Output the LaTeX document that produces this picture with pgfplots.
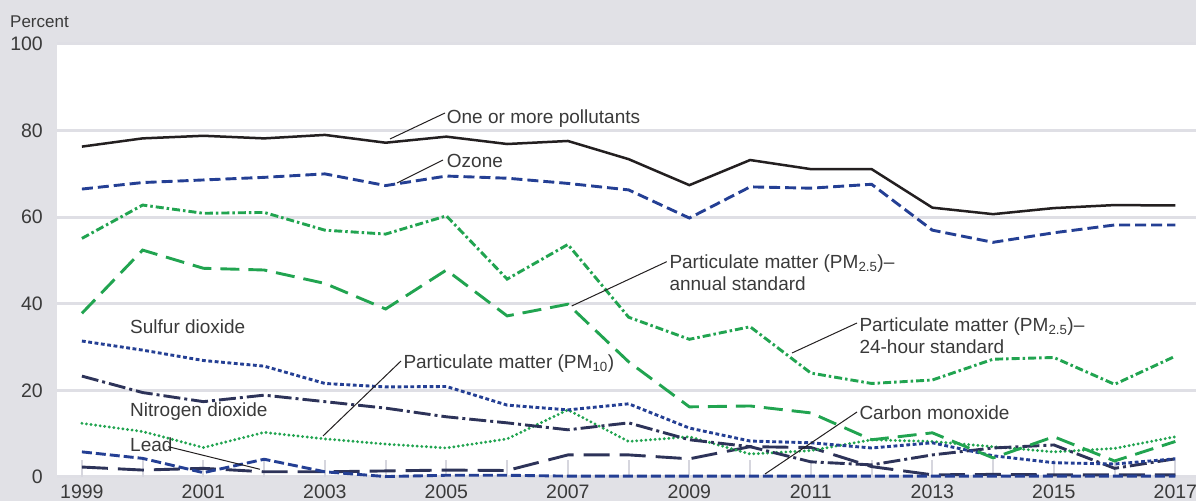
\documentclass[border=0pt]{standalone}
\usepackage{pgfplots}
\usepackage{pgfplotstable}
\pgfplotsset{compat=1.18}
\usepackage{fontspec}
\setmainfont{Liberation Sans}
\definecolor{bggray}{RGB}{225,225,230}
\definecolor{gridgray}{RGB}{223,223,229}
\definecolor{tickgray}{RGB}{214,214,222}
\definecolor{txt}{RGB}{58,58,58}
\definecolor{cblack}{RGB}{35,31,32}
\definecolor{cblue}{RGB}{36,63,148}
\definecolor{cgreen}{RGB}{33,164,80}
\definecolor{cnavy}{RGB}{45,51,89}

\pgfplotstableread{
year one  ozone pmday pmann so2  no2  pmten co  lead
1999 76.3 66.5  55.1  37.8  31.4 23.3 12.4  5.8 2.3
2000 78.2 68.0  62.8  52.4  29.3 19.5 10.5  4.3 1.6
2001 78.8 68.6  60.9  48.2  26.9 17.4  6.8  1.0 2.0
2002 78.2 69.2  61.1  47.8  25.6 18.9 10.3  4.1 1.2
2003 79.0 70.0  57.0  44.7  21.6 17.4  8.8  1.2 1.2
2004 77.2 67.3  56.1  38.8  20.8 15.9  7.6  0.1 1.4
2005 78.6 69.5  60.3  47.8  20.9 13.9  6.7  0.4 1.6
2006 76.9 69.0  45.7  37.2  16.6 12.5  8.8  0.4 1.5
2007 77.6 67.8  53.7  39.9  15.5 10.9 15.5  0.2 5.1
2008 73.4 66.3  36.9  26.6  16.9 12.5  8.2  0.2 5.1
2009 67.4 59.8  31.8  16.2  11.3  8.6  9.3  0.2 4.2
2010 73.2 67.0  34.7  16.4   8.3  7.0  5.3  0.2 7.0
2011 71.1 66.7  24.0  14.8   7.9  3.5  6.1  0.2 6.8
2012 71.1 67.6  21.6   8.6   6.7  2.8  8.6  0.2 2.4
2013 62.2 57.0  22.4  10.2   7.9  5.1  8.2  0.2 0.5
2014 60.7 54.2  27.2   4.4   4.9  6.7  7.0  0.2 0.6
2015 62.1 56.4  27.6   9.3   3.3  7.4  5.8  0.2 0.5
2016 62.8 58.2  21.4   3.7   3.0  2.0  6.6  0.2 0.5
2017 62.7 58.2  27.9   8.2   4.2  4.2  9.3  0.2 0.5
}\datatable

\begin{document}
\begin{tikzpicture}[x=1bp,y=1bp]
\fill[bggray] (0,0) rectangle (1196,501);
\begin{scope}
\clip (0,0) rectangle (1196,501);
\begin{axis}[
  at={(57bp,24bp)}, anchor=south west,
  scale only axis, width=1139bp, height=433bp,
  xmin=1998.59, xmax=2017.34, ymin=0, ymax=100,
  axis x line*=bottom, axis y line*=left,
  axis line style={draw=none},
  axis background/.style={fill=white},
  clip=false,
  xtick={1999,2000,...,2017},
  xticklabels={1999,,2001,,2003,,2005,,2007,,2009,,2011,,2013,,2015,,2017},
  ytick={0,20,40,60,80,100},
  yticklabels={0,20,40,60,80,100},
  ymajorgrids,
  major grid style={gridgray, line width=3bp},
  tick align=inside,
  x tick style={tickgray, line width=2bp},
  major tick length=17bp,
  y tick style={draw=none},
  xticklabel style={anchor=north, inner sep=0pt, yshift=-8bp, text=txt, font=\fontsize{19.5bp}{22bp}\selectfont},
  yticklabel style={anchor=east, inner sep=0pt, xshift=-14bp, text=txt, font=\fontsize{19.5bp}{22bp}\selectfont},
]
\addplot[cnavy, line width=2.9bp, dash pattern=on 26bp off 10bp] table[x=year,y=lead] {\datatable};
\addplot[cblue, line width=2.9bp, dash pattern=on 10bp off 4bp] table[x=year,y=co] {\datatable};
\addplot[cgreen, line width=3.2bp, line cap=round, dash pattern=on 0bp off 4.6bp] table[x=year,y=pmten] {\datatable};
\addplot[cnavy, line width=2.9bp, dash pattern=on 17bp off 4bp on 3bp off 4bp] table[x=year,y=no2] {\datatable};
\addplot[cblue, line width=2.9bp, dash pattern=on 3.8bp off 2.6bp] table[x=year,y=so2] {\datatable};
\addplot[cgreen, line width=2.9bp, dash pattern=on 19bp off 9bp] table[x=year,y=pmann] {\datatable};
\addplot[cgreen, line width=2.9bp, dash pattern=on 8bp off 3bp on 2.5bp off 3bp] table[x=year,y=pmday] {\datatable};
\addplot[cblue, line width=2.9bp, dash pattern=on 11bp off 5bp] table[x=year,y=ozone] {\datatable};
\addplot[cblack, line width=2.5bp] table[x=year,y=one] {\datatable};
\end{axis}
\end{scope}

% annotations
\begin{scope}[every node/.style={inner sep=0pt, anchor=base west, text=txt, font=\fontsize{19bp}{22bp}\selectfont}]
\node at (10,473.7) {\fontsize{17bp}{20bp}\selectfont Percent};
\node at (446.7,377.7) {One or more pollutants};
\node at (446.7,333.7) {Ozone};
\node at (669.3,232.7) {Particulate matter (PM\textsubscript{2.5})--};
\node at (669.3,210.3) {annual standard};
\node at (859.3,169.3) {Particulate matter (PM\textsubscript{2.5})--};
\node at (859.3,147.7) {24-hour standard};
\node at (403.3,132.7) {Particulate matter (PM\textsubscript{10})};
\node at (130,167.7) {Sulfur dioxide};
\node at (130,84.3) {Nitrogen dioxide};
\node at (130,49.3) {Lead};
\node at (859.3,81) {Carbon monoxide};
\end{scope}
\begin{scope}[cblack, line width=1bp]
\draw (390,362) -- (445,388);
\draw (397,318) -- (443,341);
\draw (571.7,195) -- (666.7,239.3);
\draw (792,148) -- (857,178);
\draw (323,65) -- (401,140);
\draw (168.3,54.3) -- (260,31.7);
\draw (765,27) -- (857,89);
\end{scope}
\pgfresetboundingbox
\useasboundingbox (0,0) rectangle (1196,501);
\end{tikzpicture}
\end{document}
